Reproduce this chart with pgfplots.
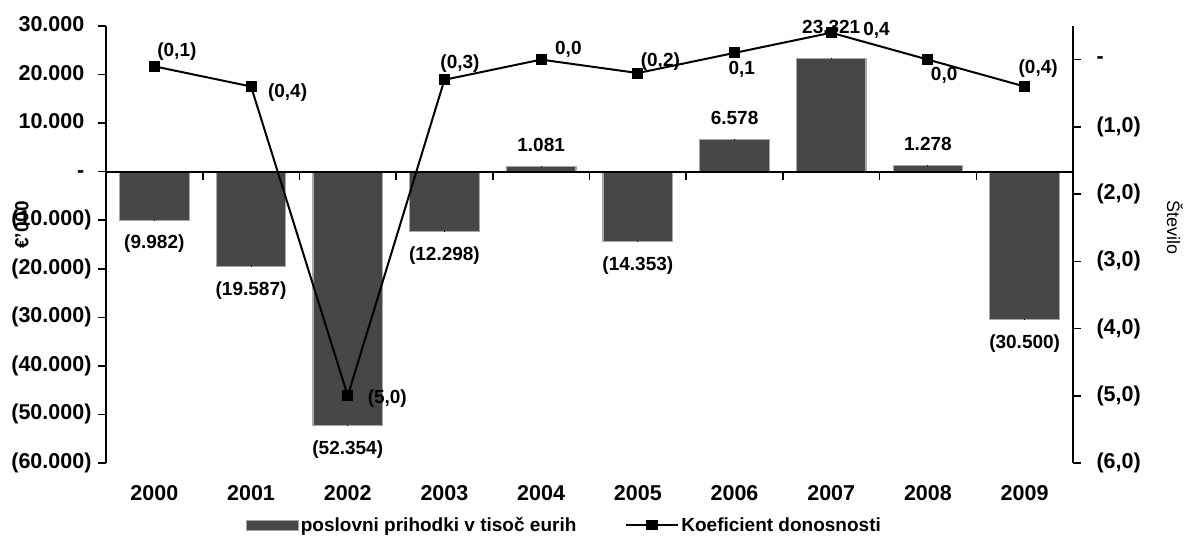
\documentclass[border=0pt]{standalone}
\usepackage{pgfplots}
\pgfplotsset{compat=1.18}
\usepackage{pgfplotstable}
\usepackage{fontspec}
\setmainfont{Liberation Sans}

\definecolor{barfill}{HTML}{474747}
\definecolor{baredge}{HTML}{A8A8A8}

% operating revenue, thousand EUR
\pgfplotstableread{
x y
0 -9982
1 -19587
2 -52354
3 -12298
4 1081
5 -14353
6 6578
7 23321
8 1278
9 -30500
}\revenue

% return coefficient
\pgfplotstableread{
x y
0 -0.1
1 -0.4
2 -5.0
3 -0.3
4 0.0
5 -0.2
6 0.1
7 0.4
8 0.0
9 -0.4
}\coef

\newcommand{\bigfont}{\fontsize{19}{21}\selectfont\bfseries}
\newcommand{\tickfont}{\fontsize{21.5}{23}\selectfont\bfseries}
% accounting format: non-negative values keep room for the closing parenthesis
\newcommand{\pad}{\phantom{)}}

\begin{document}
\begin{tikzpicture}[x=1pt,y=1pt]
\useasboundingbox (0,0) rectangle (1184,543);
\pgfplotsset{
  every axis/.append style={
    at={(106pt,80pt)}, anchor=south west,
    scale only axis, width=967pt, height=437pt,
    xmin=-0.5, xmax=9.5, clip=false,
    font=\bigfont,
    tick align=outside, major tick length=8pt,
    tick label style={font=\tickfont},
    scaled y ticks=false,
  },
  % value labels: anchor, x shift, y shift
  vlabels/.style n args={3}{only marks, mark=*, mark size=0pt,
    mark options={draw=none, fill=none, line width=0pt},
    forget plot, nodes near coords, point meta=explicit symbolic,
    every node near coord/.append style={font=\bigfont, black, anchor=#1,
      inner sep=0pt, xshift=#2, yshift=#3}},
}
\begin{axis}[
  ymin=-60000, ymax=30000,
  axis y line*=left, axis x line*=bottom,
  x axis line style={draw=none},
  y axis line style={line width=2pt},
  xtick style={draw=none},
  ytick style={line width=1.6pt, black},
  xtick={0,1,...,9},
  xticklabels={2000,2001,2002,2003,2004,2005,2006,2007,2008,2009},
  xticklabel style={yshift=-11pt, font=\tickfont},
  ytick={-60000,-50000,-40000,-30000,-20000,-10000,0,10000,20000,30000},
  yticklabels={(60.000),(50.000),(40.000),(30.000),(20.000),(10.000),-\pad,10.000\pad,20.000\pad,30.000\pad},
  yticklabel style={xshift=-3pt, font=\tickfont},
]
\addplot[ybar, bar width=0.72, fill=barfill, draw=baredge, line width=1.2pt]
  table[x=x, y=y] {\revenue};
% bar value labels
\addplot[vlabels={north}{0pt}{-15pt}] table[x=x, y=y, meta=lbl] {
x y lbl
0 -9982 (9.982)
1 -19587 (19.587)
2 -52354 (52.354)
3 -12298 (12.298)
5 -14353 (14.353)
9 -30500 (30.500)
};
\addplot[vlabels={south}{0pt}{15pt}] table[x=x, y=y, meta=lbl] {
x y lbl
4 1081 1.081
6 6578 6.578
8 1278 1.278
};
\addplot[vlabels={south}{0pt}{25pt}] table[x=x, y=y, meta=lbl] {
x y lbl
7 23321 23.321
};
\draw[line width=2pt] (axis cs:-0.5,0) -- (axis cs:9.5,0);
\draw[line width=1.6pt] (axis cs:0.5,0) -- ([yshift=-8pt]axis cs:0.5,0);
\draw[line width=1.6pt] (axis cs:1.5,0) -- ([yshift=-8pt]axis cs:1.5,0);
\draw[line width=1.6pt] (axis cs:2.5,0) -- ([yshift=-8pt]axis cs:2.5,0);
\draw[line width=1.6pt] (axis cs:3.5,0) -- ([yshift=-8pt]axis cs:3.5,0);
\draw[line width=1.6pt] (axis cs:4.5,0) -- ([yshift=-8pt]axis cs:4.5,0);
\draw[line width=1.6pt] (axis cs:5.5,0) -- ([yshift=-8pt]axis cs:5.5,0);
\draw[line width=1.6pt] (axis cs:6.5,0) -- ([yshift=-8pt]axis cs:6.5,0);
\draw[line width=1.6pt] (axis cs:7.5,0) -- ([yshift=-8pt]axis cs:7.5,0);
\draw[line width=1.6pt] (axis cs:8.5,0) -- ([yshift=-8pt]axis cs:8.5,0);
\node[rotate=90, font=\bigfont] at (rel axis cs:-0.087,0.545) {€'000};
\end{axis}

\begin{axis}[
  ymin=-6, ymax=0.5,
  axis y line*=right, axis x line=none,
  y axis line style={line width=2pt},
  ytick style={line width=1.6pt, black},
  ytick={-6,-5,-4,-3,-2,-1,0},
  yticklabels={(6,0),(5,0),(4,0),(3,0),(2,0),(1,0),-},
  yticklabel style={xshift=12pt, font=\tickfont},
  legend style={at={(0.474,-0.142)}, anchor=center, draw=none,
    legend columns=2, font=\bigfont,
    /tikz/every even column/.append style={column sep=47pt}},
]
\addlegendimage{legend image code/.code={
  \draw[fill=barfill, draw=baredge, line width=1pt] (0pt,-5pt) rectangle (52pt,5pt);}}
\addlegendentry{poslovni prihodki v tisoč eurih}
\addplot[black, line width=2pt, mark=square*, mark size=4.5pt,
  legend image code/.code={
    \draw[black, line width=2pt] (0pt,0pt) -- (52pt,0pt);
    \fill[black] (21pt,-4pt) rectangle (31pt,4pt);}]
  table[x=x, y=y] {\coef};
\addlegendentry{Koeficient donosnosti}
% value labels of the coefficient
\addplot[vlabels={south west}{3pt}{6pt}] table[meta=lbl] {
x y lbl
0 -0.1 (0,1)
};
\addplot[vlabels={west}{17pt}{-6pt}] table[meta=lbl] {
x y lbl
1 -0.4 (0,4)
};
\addplot[vlabels={west}{20pt}{-3pt}] table[meta=lbl] {
x y lbl
2 -5.0 (5,0)
};
\addplot[vlabels={south west}{-4pt}{7pt}] table[meta=lbl] {
x y lbl
3 -0.3 (0,3)
};
\addplot[vlabels={south west}{14pt}{2pt}] table[meta=lbl] {
x y lbl
4 0.0 0,0
};
\addplot[vlabels={south west}{3pt}{3pt}] table[meta=lbl] {
x y lbl
5 -0.2 (0,2)
};
\addplot[vlabels={north west}{-6pt}{-8pt}] table[meta=lbl] {
x y lbl
6 0.1 0,1
};
\addplot[vlabels={west}{32pt}{2pt}] table[meta=lbl] {
x y lbl
7 0.4 0,4
};
\addplot[vlabels={north west}{3pt}{-8pt}] table[meta=lbl] {
x y lbl
8 0.0 0,0
};
\addplot[vlabels={south west}{-6pt}{9pt}] table[meta=lbl] {
x y lbl
9 -0.4 (0,4)
};
\node[rotate=-90, font=\fontsize{18}{20}\selectfont] at (rel axis cs:1.1055,0.54) {Število};
\end{axis}
\end{tikzpicture}
\end{document}
